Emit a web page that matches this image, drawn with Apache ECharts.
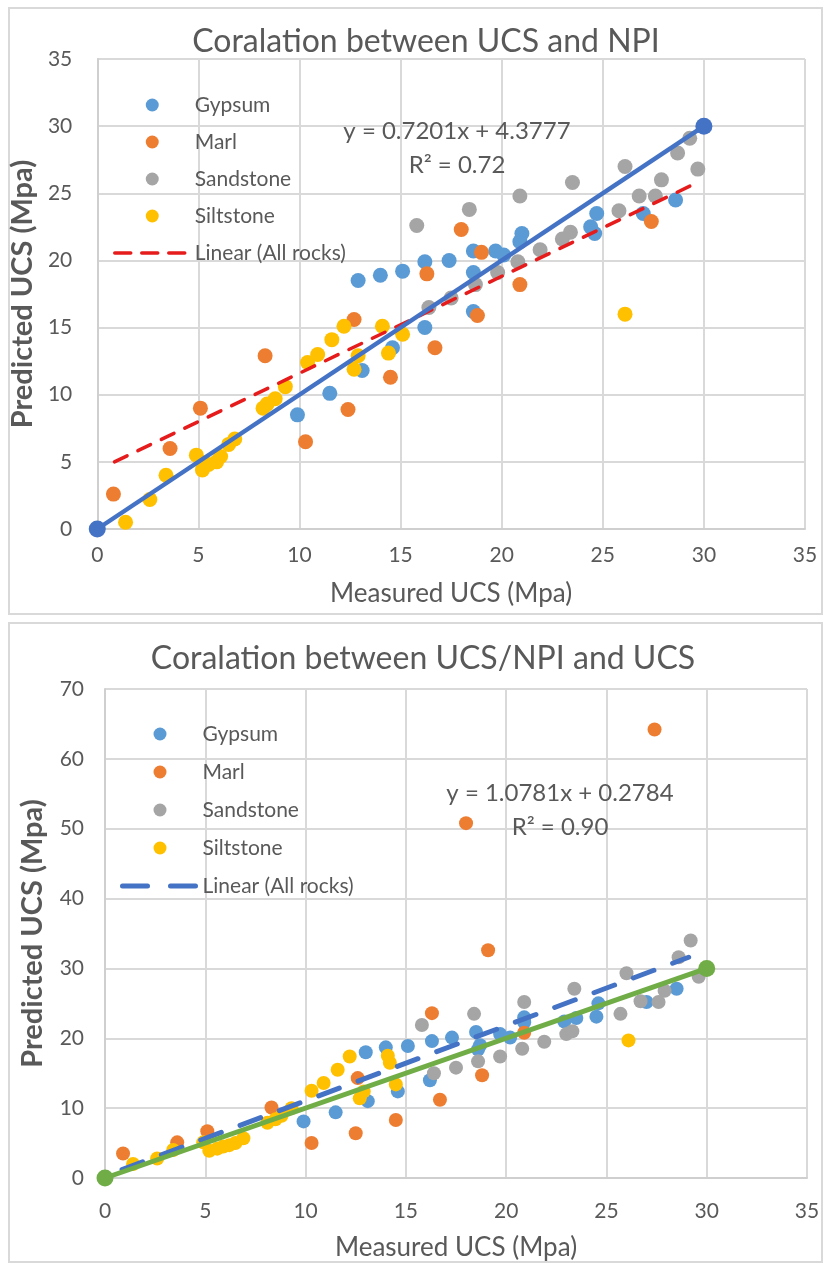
<!DOCTYPE html>
<html>
<head>
<meta charset="utf-8">
<title>Coralation between UCS and NPI</title>
<script src="https://cdn.jsdelivr.net/npm/echarts@6.0.0/dist/echarts.min.js"></script>
<style>
  html, body { margin: 0; padding: 0; background: #fff; }
  #npiChart   { position: absolute; left: 0; top: 0;     width: 829px; height: 620px; }
  #ratioChart { position: absolute; left: 0; top: 620px; width: 829px; height: 646px; }
</style>
</head>
<body>
<div id="npiChart"></div>
<div id="ratioChart"></div>
<script>
// ---- chart 1 : measured UCS vs UCS predicted from NPI ----
const gypsumNPI = [[9.9,8.5],[11.5,10.1],[13.1,11.8],[14.6,13.5],[12.9,18.5],[14.0,18.9],[15.1,19.2],
  [16.2,15.0],[16.2,19.9],[17.4,20.0],[18.6,20.7],[18.6,19.1],[18.6,16.2],[19.7,20.7],[20.1,20.4],
  [21.0,22.0],[20.9,21.4],[24.4,22.5],[24.6,22.0],[24.7,23.5],[27.0,23.5],[28.6,24.5]]
const marlNPI = [[0.8,2.6],[3.6,6.0],[5.1,9.0],[8.3,12.9],[10.3,6.5],[12.4,8.9],[12.7,15.6],[14.5,11.3],
  [16.3,19.0],[16.7,13.5],[18.0,22.3],[18.8,15.9],[19.0,20.6],[20.9,18.2],[27.4,22.9]]
const sandstoneNPI = [[15.8,22.6],[16.4,16.5],[17.5,17.2],[18.4,23.8],[18.7,18.2],[19.8,19.1],[20.8,19.9],
  [20.9,24.8],[21.9,20.8],[23.0,21.6],[23.4,22.1],[23.5,25.8],[25.8,23.7],[26.1,27.0],[26.8,24.8],
  [27.6,24.8],[27.9,26.0],[28.7,28.0],[29.3,29.1],[29.7,26.8]]
const siltstoneNPI = [[1.4,0.5],[2.6,2.2],[3.4,4.0],[4.9,5.5],[5.2,4.4],[5.5,4.8],[5.9,5.0],[6.1,5.4],
  [6.5,6.3],[6.8,6.7],[8.2,9.0],[8.4,9.3],[8.8,9.7],[9.3,10.6],[10.4,12.4],[10.9,13.0],[11.6,14.1],
  [12.2,15.1],[12.7,11.9],[12.9,12.9],[14.1,15.1],[14.4,13.1],[15.1,14.5],[26.1,16.0]]
const trendNPI = [[0.85,5.0],[29.4,25.6]]       // red dashed "Linear (All rocks)" ends as drawn

// ---- chart 2 : measured UCS vs UCS predicted from UCS/NPI ----
const gypsumUN = [[9.9,8.1],[11.5,9.4],[13.1,11.0],[14.6,12.4],[13.0,18.0],[14.0,18.7],[15.1,18.9],
  [16.2,14.0],[16.3,19.6],[17.3,20.1],[18.5,20.9],[18.7,19.0],[18.6,18.4],[19.7,20.6],[20.2,20.1],
  [20.9,23.0],[20.9,22.3],[22.9,22.4],[23.5,22.9],[24.5,23.1],[24.6,25.0],[27.0,25.2],[28.5,27.1]]
const marlUN = [[0.9,3.5],[3.6,5.1],[5.1,6.7],[8.3,10.1],[10.3,5.0],[12.5,6.4],[12.6,14.3],[14.5,8.3],
  [16.3,23.6],[16.7,11.2],[18.0,50.8],[18.8,14.7],[19.1,32.6],[20.9,20.8],[27.4,64.2]]
const sandstoneUN = [[15.8,21.9],[16.4,15.0],[17.5,15.8],[18.4,23.5],[18.6,16.7],[19.7,17.4],[20.8,18.5],
  [20.9,25.2],[21.9,19.5],[23.0,20.6],[23.3,21.0],[23.4,27.1],[25.7,23.5],[26.0,29.3],[26.7,25.3],
  [27.6,25.2],[27.9,26.8],[28.6,31.6],[29.2,34.0],[29.6,28.8]]
const siltstoneUN = [[1.4,2.0],[2.6,2.8],[3.4,4.0],[4.9,5.1],[5.2,3.9],[5.6,4.2],[5.9,4.5],[6.2,4.7],
  [6.5,5.0],[6.9,5.7],[8.1,7.9],[8.5,8.4],[8.8,8.9],[9.3,10.0],[10.3,12.5],[10.9,13.6],[11.6,15.5],
  [12.2,17.4],[12.7,11.4],[12.9,12.4],[14.1,17.5],[14.2,16.5],[14.5,13.4],[26.1,19.7]]
const trendUN = [[0.85,1.2],[29.1,31.6]]        // blue dashed "Linear (All rocks)" ends as drawn

const identityLine = [[0,0],[30,30]]            // 1:1 line drawn on both charts
const rockNames = ['Gypsum', 'Marl', 'Sandstone', 'Siltstone']
const rockColors = ['#5b9bd5', '#ed7d31', '#a5a5a5', '#ffc000']

const font = 'Lato, "Open Sans", sans-serif'
const textColor = '#595959'
const gridColor = '#d9d9d9'

function axis(max, interval, labelMargin, name, nameGap, nameSize, bold) {
  return {
    type: 'value', min: 0, max, interval,
    name, nameLocation: 'middle', nameGap,
    nameTextStyle: { fontFamily: font, fontSize: nameSize, color: textColor, fontWeight: bold ? 'bold' : 'normal' },
    axisLine: { show: true, onZero: false, lineStyle: { color: '#cfcfcf', width: 2 } },
    axisTick: { show: false },
    axisLabel: { margin: labelMargin, fontFamily: font, fontSize: 21, color: textColor, showMinLabel: true, showMaxLabel: true },
    splitLine: { show: true, lineStyle: { color: gridColor, width: 2 } }
  }
}

function buildOption(c) {
  const series = c.rocks.map((data, i) => ({
    name: rockNames[i], type: 'scatter', data, symbolSize: c.dot,
    itemStyle: { color: rockColors[i], opacity: 1 }
  }))
  series.push({
    name: 'Linear (All rocks)', type: 'line', data: c.trend, symbol: 'none',
    lineStyle: { color: c.trendColor, width: c.trendWidth, type: c.trendDash, cap: 'round' }
  })
  series.push({
    name: '1:1', type: 'line', data: identityLine, symbol: 'circle', symbolSize: 17,
    itemStyle: { color: c.oneColor }, lineStyle: { color: c.oneColor, width: c.oneWidth }
  })
  return {
    animation: false,
    backgroundColor: '#fff',
    title: {
      text: c.title, left: c.titleX, top: c.titleY, padding: 0,
      textAlign: 'center', textVerticalAlign: 'middle',
      textStyle: { fontFamily: font, fontSize: 32, fontWeight: 'normal', color: textColor }
    },
    grid: c.grid,
    legend: {
      orient: 'vertical', left: c.legendX, top: c.legendY, padding: 0,
      itemWidth: 75, itemHeight: 13, itemGap: c.legendGap,
      textStyle: { fontFamily: font, fontSize: 21, lineHeight: 22, color: textColor },
      data: rockNames.concat([{
        name: 'Linear (All rocks)', itemStyle: { opacity: 0 },
        lineStyle: { color: c.trendColor, width: c.trendWidth, type: c.legendDash }
      }])
    },
    xAxis: axis(35, 5, c.xMargin, 'Measured UCS (Mpa)', c.xNameGap, 26, false),
    yAxis: axis(c.yMax, c.yStep, c.yMargin, 'Predicted UCS (Mpa)', c.yNameGap, 29, true),
    series,
    graphic: [
      { type: 'rect', silent: true, shape: c.frame, style: { fill: 'none', stroke: gridColor, lineWidth: 2 } },
      { type: 'text', z: 100, x: c.eqX, y: c.eqY, style: { text: c.eq, fontFamily: font, fontSize: 24, fill: textColor, align: 'center', verticalAlign: 'middle' } },
      { type: 'text', z: 100, x: c.eqX, y: c.eqY + 34, style: { text: c.r2, fontFamily: font, fontSize: 24, fill: textColor, align: 'center', verticalAlign: 'middle' } }
    ]
  }
}

const npiChart = echarts.init(document.getElementById('npiChart'))
npiChart.setOption(buildOption({
  title: 'Coralation between UCS and NPI', titleX: 426, titleY: 42,
  grid: { left: 96, right: 24, top: 59, bottom: 91 },
  rocks: [gypsumNPI, marlNPI, sandstoneNPI, siltstoneNPI], dot: 15,
  trend: trendNPI, trendColor: '#e61c1c', trendWidth: 3.5, trendDash: [14, 12], legendDash: [16, 11],
  oneColor: '#4472c4', oneWidth: 4.5,
  legendX: 113, legendY: 94, legendGap: 15,
  yMax: 35, yStep: 5, xMargin: 16, yMargin: 25, xNameGap: 52, yNameGap: 50,
  frame: { x: 9, y: 8, width: 813, height: 606 },
  eq: 'y = 0.7201x + 4.3777', r2: 'R² = 0.72', eqX: 457, eqY: 131
}))

const ratioChart = echarts.init(document.getElementById('ratioChart'))
ratioChart.setOption(buildOption({
  title: 'Coralation between UCS/NPI and UCS', titleX: 423, titleY: 39,
  grid: { left: 105, right: 22, top: 69, bottom: 88 },
  rocks: [gypsumUN, marlUN, sandstoneUN, siltstoneUN], dot: 14,
  trend: trendUN, trendColor: '#4472c4', trendWidth: 5, trendDash: [22, 20], legendDash: [25, 23],
  oneColor: '#70ad47', oneWidth: 5,
  legendX: 120, legendY: 103, legendGap: 16,
  yMax: 70, yStep: 10, xMargin: 23, yMargin: 21, xNameGap: 57, yNameGap: 58,
  frame: { x: 9, y: 3, width: 813, height: 639 },
  eq: 'y = 1.0781x + 0.2784', r2: 'R² = 0.90', eqX: 560, eqY: 173
}))
</script>
</body>
</html>
